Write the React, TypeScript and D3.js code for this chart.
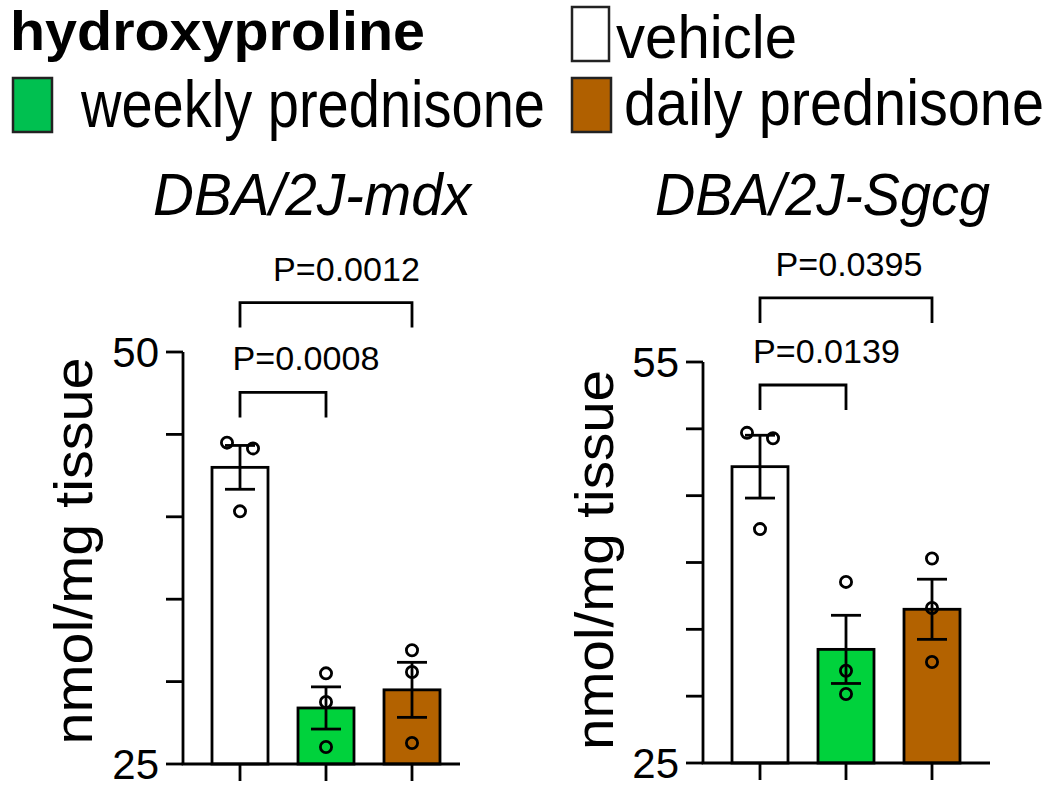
import React from "react";
import * as d3 from "d3";

// ---------- data ----------
const groups = ["vehicle", "weekly prednisone", "daily prednisone"];
const barFills = ["#ffffff", "#00d23c", "#b36200"];
const legendFills = ["#ffffff", "#00c050", "#b06000"];

const mdxTitle = "DBA/2J-mdx";
const mdxMeans = [43.0, 28.4, 29.5];
const mdxSem = [1.33, 1.28, 1.67];
const mdxPoints = [
  [44.5, 44.15, 40.33],
  [30.5, 28.76, 26.03],
  [31.9, 30.58, 26.27],
];
const mdxTicks = [25, 30, 35, 40, 45, 50];
const mdxTickLabels = ["25", "", "", "", "", "50"];
const mdxComparisons = [
  { a: 0, b: 1, p: "P=0.0008", level: 47.55 },
  { a: 0, b: 2, p: "P=0.0012", level: 53.0 },
];

const sgcgTitle = "DBA/2J-Sgcg";
const sgcgMeans = [47.17, 33.5, 36.5];
const sgcgSem = [2.35, 2.55, 2.25];
const sgcgPoints = [
  [49.7, 49.3, 42.5],
  [38.55, 31.9, 30.16],
  [40.3, 36.6, 32.56],
];
const sgcgTicks = [25, 30, 35, 40, 45, 50, 55];
const sgcgTickLabels = ["25", "", "", "", "", "", "55"];
const sgcgComparisons = [
  { a: 0, b: 1, p: "P=0.0139", level: 53.28 },
  { a: 0, b: 2, p: "P=0.0395", level: 59.79 },
];

const yLabel = "nmol/mg tissue";
const legendTitle = "hydroxyproline";

// ---------- layout ----------
const FONT = "'Liberation Sans', Arial, Helvetica, sans-serif";
const SW = 2.8;

const leftLayout = {
  axisX: 183, yBottom: 764, yTop: 352, xFirst: 240, xLast: 412, xEnd: 460,
  titleX: 153, titleW: 318, labelX: 92, labelCY: 551, labelLen: 387,
  tickLabelX: 159, pOffsets: [23, 20.5],
};
const rightLayout = {
  axisX: 703, yBottom: 763, yTop: 362, xFirst: 760, xLast: 932, xEnd: 990,
  titleX: 655, titleW: 335, labelX: 613, labelCY: 560, labelLen: 380,
  tickLabelX: 679, pOffsets: [23.5, 3],
};

function Panel({ title, means, sems, points, ticks, tickLabels, comps, L }: any) {
  const y = d3.scaleLinear().domain([ticks[0], ticks[ticks.length - 1]]).range([L.yBottom, L.yTop]);
  const x = d3.scalePoint<string>().domain(groups).range([L.xFirst, L.xLast]);
  const barW = 56;
  const capW = 30;
  const r = 5.6;
  const tickLen = 17;
  const legLen = 25;

  // dodge overlapping points horizontally
  const pointPos = (vals: number[], cx: number) => {
    const ys = vals.map((v) => y(v));
    return vals.map((v, i) => {
      let off = 0;
      for (let j = 0; j < vals.length; j++) {
        if (j !== i && Math.abs(ys[i] - ys[j]) < 13) {
          off = vals[i] > vals[j] ? -13 : 13;
        }
      }
      return { cx: cx + off, cy: ys[i] };
    });
  };

  return (
    <g>
      <text
        x={L.titleX}
        y={215}
        fontFamily={FONT}
        fontStyle="italic"
        fontSize={59}
        textLength={L.titleW}
        lengthAdjust="spacingAndGlyphs"
      >
        {title}
      </text>
      <text
        transform={`translate(${L.labelX},${L.labelCY}) rotate(-90)`}
        textAnchor="middle"
        fontFamily={FONT}
        fontSize={54}
        textLength={L.labelLen}
        lengthAdjust="spacingAndGlyphs"
      >
        {yLabel}
      </text>
      {/* bars */}
      {groups.map((g, i) => (
        <rect
          key={g}
          x={(x(g) as number) - barW / 2}
          y={y(means[i])}
          width={barW}
          height={y(ticks[0]) - y(means[i])}
          fill={barFills[i]}
          stroke="#000"
          strokeWidth={SW}
        />
      ))}
      {/* error bars */}
      {groups.map((g, i) => {
        const cx = x(g) as number;
        const t = y(means[i] + sems[i]);
        const b = y(means[i] - sems[i]);
        return (
          <g key={g} stroke="#000" strokeWidth={SW}>
            <line x1={cx} x2={cx} y1={t} y2={b} />
            <line x1={cx - capW / 2} x2={cx + capW / 2} y1={t} y2={t} />
            <line x1={cx - capW / 2} x2={cx + capW / 2} y1={b} y2={b} />
          </g>
        );
      })}
      {/* points */}
      {groups.map((g, i) =>
        pointPos(points[i], x(g) as number).map((p, k) => (
          <circle key={g + k} cx={p.cx} cy={p.cy} r={r} fill="none" stroke="#000" strokeWidth={SW} />
        ))
      )}
      {/* y axis */}
      <line x1={L.axisX} x2={L.axisX} y1={y(ticks[0])} y2={y(ticks[ticks.length - 1])} stroke="#000" strokeWidth={SW} />
      {ticks.map((t: number, i: number) => (
        <g key={t}>
          <line x1={L.axisX - tickLen} x2={L.axisX} y1={y(t)} y2={y(t)} stroke="#000" strokeWidth={SW} />
          {tickLabels[i] && (
            <text
              x={L.tickLabelX}
              y={y(t)}
              dy="0.36em"
              textAnchor="end"
              fontFamily={FONT}
              fontSize={42}
            >
              {tickLabels[i]}
            </text>
          )}
        </g>
      ))}
      {/* x axis */}
      <line x1={L.axisX - SW / 2} x2={L.xEnd} y1={y(ticks[0])} y2={y(ticks[0])} stroke="#000" strokeWidth={SW} />
      {groups.map((g) => (
        <line
          key={g}
          x1={x(g) as number}
          x2={x(g) as number}
          y1={y(ticks[0])}
          y2={y(ticks[0]) + tickLen}
          stroke="#000"
          strokeWidth={SW}
        />
      ))}
      {/* comparisons */}
      {comps.map((c: any, i: number) => {
        const xa = x(groups[c.a]) as number;
        const xb = x(groups[c.b]) as number;
        const yy = y(c.level);
        return (
          <g key={c.p}>
            <path
              d={`M${xa},${yy + legLen}V${yy}H${xb}V${yy + legLen}`}
              fill="none"
              stroke="#000"
              strokeWidth={SW}
            />
            <text
              x={(xa + xb) / 2 + L.pOffsets[i]}
              y={yy - 22}
              textAnchor="middle"
              fontFamily={FONT}
              fontSize={33}
              textLength={147}
              lengthAdjust="spacingAndGlyphs"
            >
              {c.p}
            </text>
          </g>
        );
      })}
    </g>
  );
}

export default function App() {
  return (
    <svg
      width={1050}
      height={786}
      style={{ position: "absolute", left: 0, top: 0, background: "#fff" }}
    >
      <rect width={1050} height={786} fill="#fff" />
      {/* legend */}
      <text x={10} y={50} fontFamily={FONT} fontWeight="bold" fontSize={55} textLength={415} lengthAdjust="spacingAndGlyphs">
        {legendTitle}
      </text>
      <rect x={572} y={7} width={37} height={54} fill={legendFills[0]} stroke="#222" strokeWidth={2.5} />
      <text x={616} y={58} fontFamily={FONT} fontSize={62} textLength={181} lengthAdjust="spacingAndGlyphs">
        {groups[0]}
      </text>
      <rect x={13} y={78} width={39} height={54} fill={legendFills[1]} stroke="#222" strokeWidth={2.5} />
      <text x={81} y={127} fontFamily={FONT} fontSize={66} textLength={464} lengthAdjust="spacingAndGlyphs">
        {groups[1]}
      </text>
      <rect x={572} y={78} width={39} height={54} fill={legendFills[2]} stroke="#222" strokeWidth={2.5} />
      <text x={624} y={125} fontFamily={FONT} fontSize={64} textLength={420} lengthAdjust="spacingAndGlyphs">
        {groups[2]}
      </text>

      <Panel
        title={mdxTitle}
        means={mdxMeans}
        sems={mdxSem}
        points={mdxPoints}
        ticks={mdxTicks}
        tickLabels={mdxTickLabels}
        comps={mdxComparisons}
        L={leftLayout}
      />
      <Panel
        title={sgcgTitle}
        means={sgcgMeans}
        sems={sgcgSem}
        points={sgcgPoints}
        ticks={sgcgTicks}
        tickLabels={sgcgTickLabels}
        comps={sgcgComparisons}
        L={rightLayout}
      />
    </svg>
  );
}
